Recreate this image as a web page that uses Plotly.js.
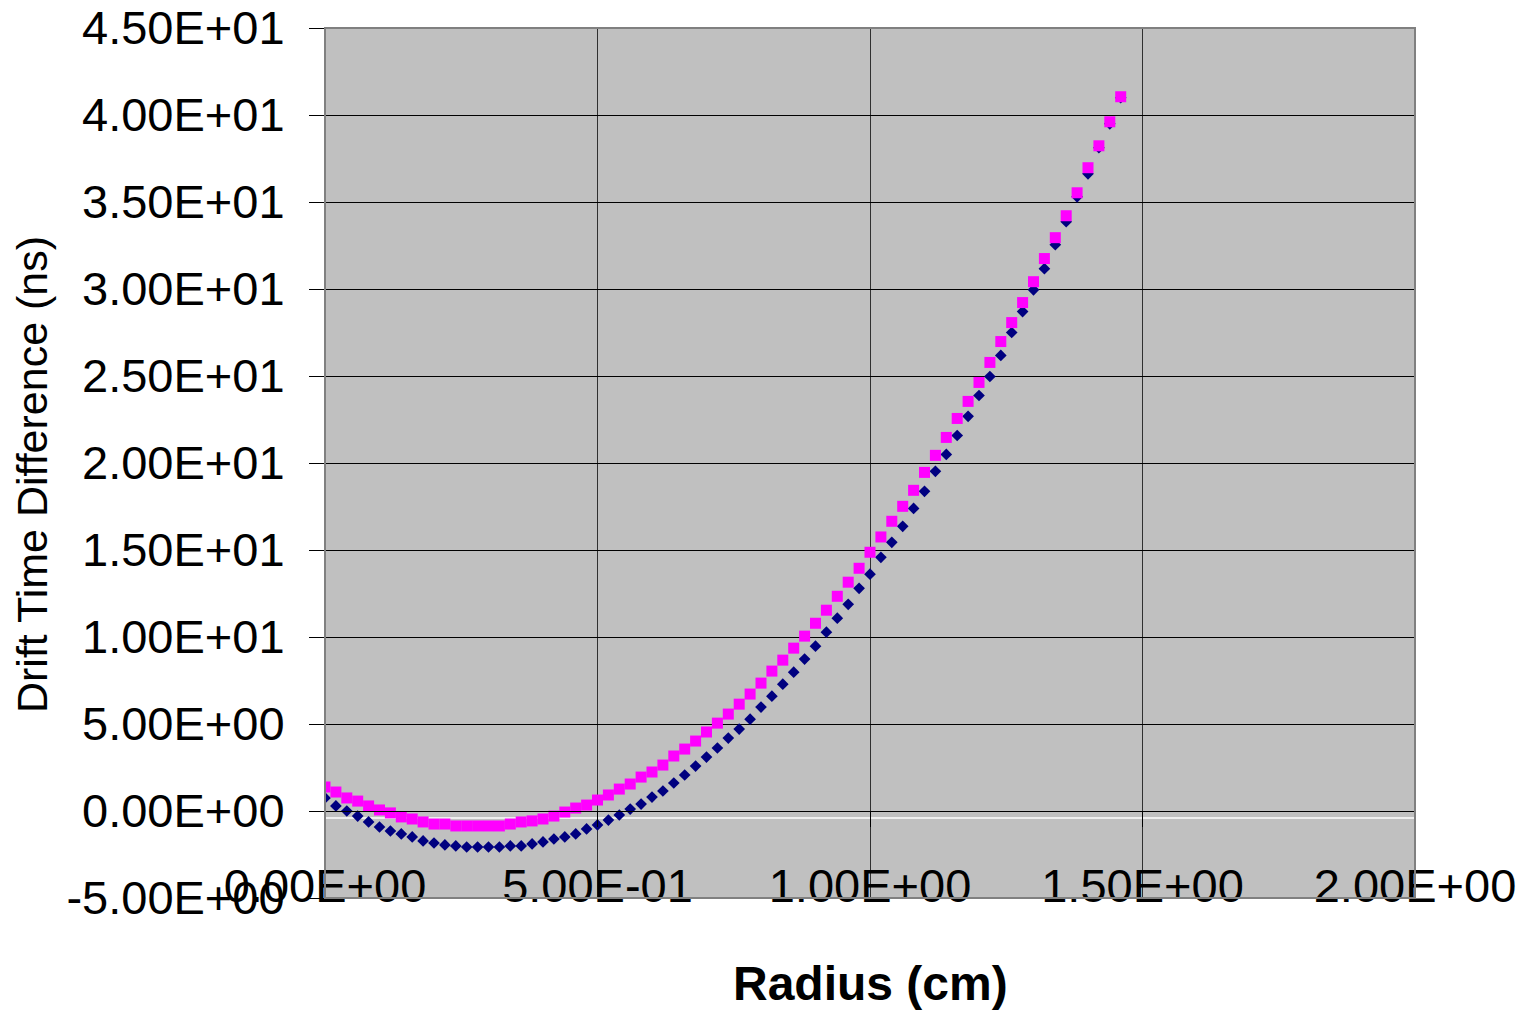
<!DOCTYPE html>
<html>
<head>
<meta charset="utf-8">
<script src="https://cdn.plot.ly/plotly-3.0.1.min.js"></script>
<style>
html,body{margin:0;padding:0;background:#fff;}
#chart{width:1521px;height:1011px;}
</style>
</head>
<body>
<div id="chart"></div>
<script>
// Radius (cm)
var radius = [0.00,0.02,0.04,0.06,0.08,0.10,0.12,0.14,0.16,0.18,
  0.20,0.22,0.24,0.26,0.28,0.30,0.32,0.34,0.36,0.38,
  0.40,0.42,0.44,0.46,0.48,0.50,0.52,0.54,0.56,0.58,
  0.60,0.62,0.64,0.66,0.68,0.70,0.72,0.74,0.76,0.78,
  0.80,0.82,0.84,0.86,0.88,0.90,0.92,0.94,0.96,0.98,
  1.00,1.02,1.04,1.06,1.08,1.10,1.12,1.14,1.16,1.18,
  1.20,1.22,1.24,1.26,1.28,1.30,1.32,1.34,1.36,1.38,
  1.40,1.42,1.44,1.46];

// Series 1 (navy diamonds), drift time difference (ns)
var seriesBlue = [0.75,0.29,0.00,-0.29,-0.63,-0.92,-1.15,-1.32,-1.49,-1.72,
  -1.84,-1.95,-2.01,-2.07,-2.07,-2.07,-2.07,-2.01,-2.01,-1.89,
  -1.78,-1.61,-1.49,-1.32,-1.03,-0.80,-0.52,-0.23,0.11,0.40,
  0.80,1.15,1.61,2.07,2.58,3.10,3.62,4.19,4.71,5.28,
  5.97,6.60,7.29,7.98,8.73,9.47,10.28,11.08,11.88,12.80,
  13.61,14.58,15.44,16.36,17.39,18.37,19.52,20.49,21.58,22.68,
  23.88,24.97,26.18,27.50,28.70,29.95,31.17,32.55,33.87,35.30,
  36.62,38.12,39.49,40.99];

// Series 2 (magenta squares), drift time difference (ns)
var seriesPink = [1.38,1.09,0.75,0.57,0.29,0.06,-0.11,-0.34,-0.46,-0.63,
  -0.75,-0.75,-0.86,-0.86,-0.86,-0.86,-0.86,-0.75,-0.63,-0.57,
  -0.46,-0.29,-0.06,0.17,0.34,0.63,0.92,1.26,1.55,1.95,
  2.24,2.64,3.16,3.56,4.02,4.54,5.05,5.57,6.14,6.72,
  7.35,8.04,8.67,9.36,10.05,10.79,11.54,12.34,13.15,13.95,
  14.87,15.75,16.65,17.51,18.43,19.46,20.44,21.47,22.56,23.54,
  24.63,25.78,26.98,28.07,29.22,30.42,31.75,32.95,34.21,35.53,
  36.97,38.23,39.61,41.05];

var xTickVals = [0, 0.5, 1.0, 1.5, 2.0];
var xTickText = ["0.00E+00","5.00E-01","1.00E+00","1.50E+00","2.00E+00"];
var yTickVals = [-5,0,5,10,15,20,25,30,35,40,45];
var yTickText = ["-5.00E+00","0.00E+00","5.00E+00","1.00E+01","1.50E+01","2.00E+01",
  "2.50E+01","3.00E+01","3.50E+01","4.00E+01","4.50E+01"];
var xTitle = "<b>Radius (cm)</b>";
var yTitle = "Drift Time Difference (ns)";

var FONT = "Liberation Sans, Arial, sans-serif";

var traces = [
  {
    x: radius, y: seriesBlue, type: "scatter", mode: "markers",
    marker: {symbol: "diamond", size: 9, color: "#000080", line: {width: 0}},
    showlegend: false, hoverinfo: "x+y"
  },
  {
    x: radius, y: seriesPink, type: "scatter", mode: "markers",
    marker: {symbol: "square", size: 11, color: "#FF00FF", line: {width: 0}},
    showlegend: false, hoverinfo: "x+y"
  }
];

var layout = {
  width: 1521, height: 1011,
  margin: {l: 325, r: 106, t: 28, b: 113},
  paper_bgcolor: "#ffffff",
  plot_bgcolor: "#c0c0c0",
  font: {family: FONT, color: "#000"},
  xaxis: {
    range: [0, 2],
    tickvals: xTickVals, ticktext: xTickText,
    anchor: "free", position: 0.1,
    showline: true, linecolor: "#000", linewidth: 1,
    ticks: "outside", ticklen: 15, tickcolor: "#000", tickwidth: 1,
    ticklabelstandoff: 19,
    showgrid: true, gridcolor: "#303030", gridwidth: 1,
    zeroline: false,
    tickfont: {family: FONT, size: 47, color: "#000"}
  },
  yaxis: {
    range: [-5, 45],
    tickvals: yTickVals, ticktext: yTickText,
    showline: true, linecolor: "#000", linewidth: 1,
    ticks: "outside", ticklen: 15, tickcolor: "#000", tickwidth: 1,
    ticklabelstandoff: 15,
    showgrid: true, gridcolor: "#000", gridwidth: 1,
    zeroline: true, zerolinecolor: "#000", zerolinewidth: 1,
    tickfont: {family: FONT, size: 47, color: "#000"}
  },
  annotations: [
    {text: xTitle, xref: "paper", yref: "paper", x: 0.5, y: -0.0985,
     xanchor: "center", yanchor: "middle", showarrow: false,
     font: {family: FONT, size: 48, color: "#000"}},
    {text: yTitle, xref: "paper", yref: "paper", x: -0.2688, y: 0.4862,
     xanchor: "center", yanchor: "middle", showarrow: false, textangle: -90,
     font: {family: FONT, size: 43, color: "#000"}}
  ],
  shapes: [
    {type: "line", xref: "x", yref: "y", x0: 0, x1: 2, y0: -0.4, y1: -0.4,
     line: {color: "#ffffff", width: 1.5}, layer: "below"},
    {type: "rect", xref: "paper", yref: "paper", x0: 0, x1: 1, y0: 0, y1: 1,
     line: {color: "#808080", width: 2}, fillcolor: "rgba(0,0,0,0)", layer: "above"}
  ]
};

Plotly.newPlot("chart", traces, layout, {displayModeBar: false, staticPlot: true});
</script>
</body>
</html>
